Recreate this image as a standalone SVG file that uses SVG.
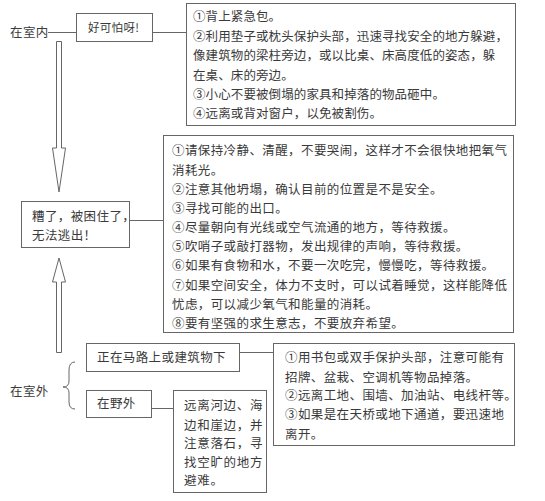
<svg xmlns="http://www.w3.org/2000/svg" width="545" height="501" viewBox="0 0 545 501">
<style>
text{font-family:"Noto Sans CJK SC","Noto Sans CJK TC",sans-serif;font-size:12.5px;fill:#3a3a3a;letter-spacing:0.4px}
.b{fill:#fff;stroke:#666;stroke-width:1}
.l{fill:none;stroke:#666;stroke-width:1}
.t1{letter-spacing:0.1px}
.w{letter-spacing:0.7px}
</style>
<rect width="545" height="501" fill="#fff"/>
<g id="connectors">
<line class="l" x1="48" y1="32.5" x2="76" y2="32.5"/>
<line class="l" x1="153" y1="32.5" x2="186" y2="32.5"/>
<line class="l" x1="130" y1="220.5" x2="163" y2="220.5"/>
<line class="l" x1="240" y1="352.5" x2="273" y2="352.5"/>
<line class="l" x1="152" y1="408.5" x2="173" y2="408.5"/>
<path class="l" d="M56.5,41.5 L61.5,41.5 L61.5,148 L65.5,148 L59,192 L52.5,148 L56.5,148 Z"/>
<path class="l" d="M56.5,352.5 L61.5,352.5 L61.5,282 L65.5,282 L59,258 L52.5,282 L56.5,282 Z"/>
<path class="l" d="M75,362 Q69,362 69,370 L69,381 Q69,387 63,387 Q69,387 69,393 L69,402 Q69,409 75,409"/>
</g>
<g id="indoor"><text x="10" y="37">在室内</text></g>
<g id="scary"><rect class="b" x="76.5" y="13.5" width="76" height="28"/><text x="88" y="32" style="font-size:11.5px;letter-spacing:0.3px">好可怕呀!</text></g>
<g id="indoor-tips"><rect class="b" x="186.5" y="3.5" width="329" height="122"/>
<text class="t1" x="193" y="21">①背上紧急包。</text>
<text class="t1" x="193" y="40.5">②利用垫子或枕头保护头部，迅速寻找安全的地方躲避，</text>
<text class="t1" x="193" y="60">像建筑物的梁柱旁边，或以比桌、床高度低的姿态，躲</text>
<text class="t1" x="193" y="79.5">在桌、床的旁边。</text>
<text class="t1" x="193" y="99">③小心不要被倒塌的家具和掉落的物品砸中。</text>
<text class="t1" x="193" y="118">④远离或背对窗户，以免被割伤。</text>
</g>
<g id="trapped"><rect class="b" x="21.5" y="201.5" width="108" height="46"/>
<text x="32" y="221">糟了，被困住了，</text>
<text x="32" y="240">无法逃出！</text>
</g>
<g id="trapped-tips"><rect class="b" x="163.5" y="135.5" width="350" height="197"/>
<text x="172" y="155">①请保持冷静、清醒，不要哭闹，这样才不会很快地把氧气</text>
<text x="172" y="175">消耗光。</text>
<text x="172" y="194">②注意其他坍塌，确认目前的位置是不是安全。</text>
<text x="172" y="213">③寻找可能的出口。</text>
<text x="172" y="232">④尽量朝向有光线或空气流通的地方，等待救援。</text>
<text x="172" y="251">⑤吹哨子或敲打器物，发出规律的声响，等待救援。</text>
<text x="172" y="270">⑥如果有食物和水，不要一次吃完，慢慢吃，等待救援。</text>
<text x="172" y="290">⑦如果空间安全，体力不支时，可以试着睡觉，这样能降低</text>
<text x="172" y="309">忧虑，可以减少氧气和能量的消耗。</text>
<text x="172" y="328">⑧要有坚强的求生意志，不要放弃希望。</text>
</g>
<g id="outdoor"><text x="10" y="396">在室外</text></g>
<g id="road"><rect class="b" x="86.5" y="343.5" width="153" height="28"/><text x="97" y="362">正在马路上或建筑物下</text></g>
<g id="road-tips"><rect class="b" x="273.5" y="343.5" width="241" height="102"/>
<text x="285" y="362">①用书包或双手保护头部，注意可能有</text>
<text x="285" y="382">招牌、盆栽、空调机等物品掉落。</text>
<text x="285" y="400">②远离工地、围墙、加油站、电线杆等。</text>
<text x="285" y="419">③如果是在天桥或地下通道，要迅速地</text>
<text x="285" y="439">离开。</text>
</g>
<g id="wild"><rect class="b" x="86.5" y="390.5" width="65" height="27"/><text x="97" y="408">在野外</text></g>
<g id="wild-tips"><rect class="b" x="173.5" y="390.5" width="93" height="102"/>
<text class="w" x="184" y="410">远离河边、海</text>
<text class="w" x="184" y="430">边和崖边，并</text>
<text class="w" x="184" y="448">注意落石，寻</text>
<text class="w" x="184" y="467">找空旷的地方</text>
<text class="w" x="184" y="485">避难。</text>
</g>
</svg>
